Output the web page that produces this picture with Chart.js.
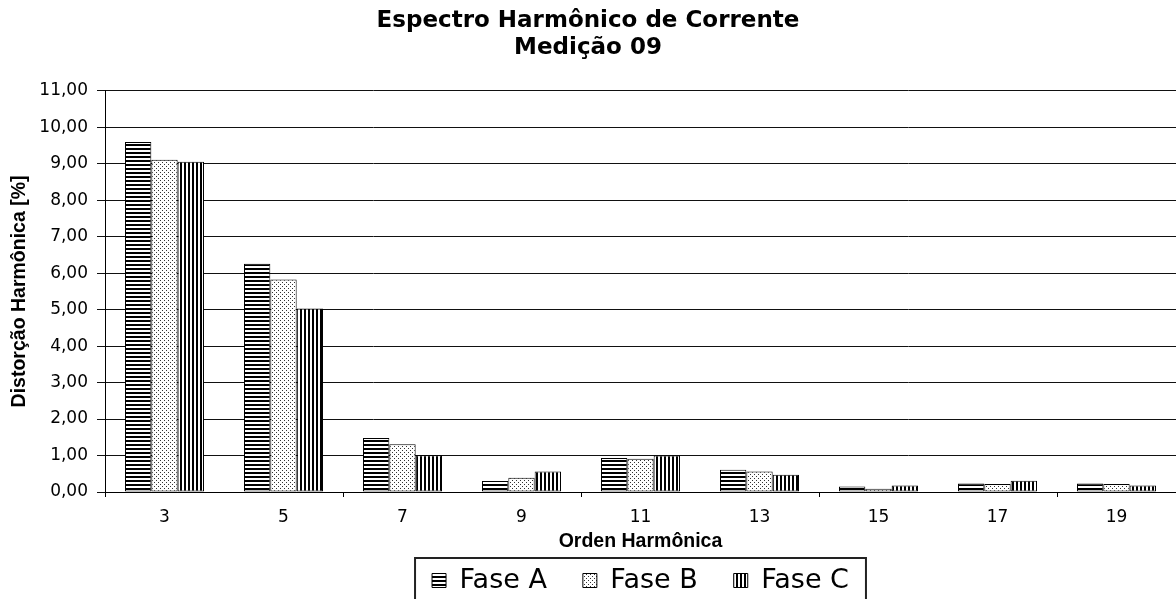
<!DOCTYPE html>
<html>
<head>
<meta charset="utf-8">
<script src="https://cdn.jsdelivr.net/npm/chart.js@4.4.1/dist/chart.umd.min.js"></script>
<style>
  html, body { margin: 0; padding: 0; background: #ffffff; }
  #wrap { width: 1176px; height: 599px; position: relative; }
</style>
</head>
<body>
<div id="wrap"><canvas id="c" width="1176" height="599"></canvas></div>
<script>
// ---- data ----
const categories = ['3', '5', '7', '9', '11', '13', '15', '17', '19'];
const faseA = [9.60, 6.26, 1.48, 0.30, 0.93, 0.61, 0.15, 0.23, 0.23];
const faseB = [9.11, 5.83, 1.31, 0.39, 0.91, 0.56, 0.09, 0.22, 0.22];
const faseC = [9.06, 5.03, 1.01, 0.56, 1.00, 0.47, 0.18, 0.31, 0.18];
const seriesNames = ['Fase A', 'Fase B', 'Fase C'];
const yTickLabels = ['0,00', '1,00', '2,00', '3,00', '4,00', '5,00', '6,00', '7,00', '8,00', '9,00', '10,00', '11,00'];
const chartTitle = ['Espectro Harmônico de Corrente', 'Medição 09'];
const xTitle = 'Orden Harmônica';
const yTitle = 'Distorção Harmônica [%]';

// ---- fill patterns ----
function makePattern(kind) {
  const c = document.createElement('canvas');
  c.width = 4; c.height = 4;
  const g = c.getContext('2d');
  g.fillStyle = '#ffffff';
  g.fillRect(0, 0, 4, 4);
  g.fillStyle = '#000000';
  if (kind === 'h') {
    g.fillRect(0, 0, 4, 2);
  } else if (kind === 'v') {
    g.fillRect(0, 0, 2, 4);
  } else {
    g.fillStyle = '#333333';
    g.fillRect(0, 0, 1, 1);
    g.fillRect(2, 2, 1, 1);
  }
  return g.createPattern(c, 'repeat');
}
const patterns = [makePattern('h'), makePattern('d'), makePattern('v')];

const legendBorder = {
  id: 'legendBorder',
  afterDraw(chart) {
    const lg = chart.legend;
    if (!lg || !lg.legendHitBoxes || !lg.legendHitBoxes.length) return;
    const hb = lg.legendHitBoxes;
    const first = hb[0], last = hb[hb.length - 1];
    const ctx = chart.ctx;
    ctx.save();
    ctx.strokeStyle = '#222222';
    ctx.lineWidth = 2;
    const left = first.left - 17;
    const right = last.left + last.width + 17;
    const top = first.top - 9;
    ctx.strokeRect(left, top, right - left, 80);
    ctx.restore();
  }
};

const ctx = document.getElementById('c').getContext('2d');
new Chart(ctx, {
  type: 'bar',
  data: {
    labels: categories,
    datasets: [faseA, faseB, faseC].map((d, i) => ({
      label: seriesNames[i],
      data: d,
      backgroundColor: patterns[i],
      borderColor: '#000000',
      borderWidth: 1,
      borderSkipped: false,
      barPercentage: 1.0,
      categoryPercentage: 0.664
    }))
  },
  options: {
    responsive: false,
    devicePixelRatio: 1,
    animation: false,
    layout: { padding: 0 },
    plugins: {
      title: {
        display: true,
        text: chartTitle,
        color: '#000000',
        font: { family: 'DejaVu Sans', size: 23, weight: 'bold', lineHeight: 1.15 },
        padding: { top: 8, bottom: 30 }
      },
      legend: {
        display: true,
        position: 'bottom',
        fullSize: false,
        maxHeight: 68,
        labels: {
          color: '#000000',
          font: { family: 'DejaVu Sans', size: 27 },
          boxWidth: 14,
          boxHeight: 14,
          padding: 36
        }
      },
      tooltip: { enabled: false }
    },
    scales: {
      x: {
        offset: true,
        afterFit: (s) => { s.height = 39; },
        grid: {
          display: true,
          drawOnChartArea: false,
          drawTicks: true,
          tickLength: 5,
          offset: true,
          color: (c) => (c.index % 2 === 0 ? '#000000' : 'rgba(0,0,0,0)')
        },
        border: { display: true, color: '#000000', width: 1 },
        ticks: {
          color: '#000000',
          font: { family: 'DejaVu Sans', size: 17 },
          padding: 10,
          maxRotation: 0,
          autoSkip: false
        },
        title: {
          display: true,
          text: xTitle,
          color: '#000000',
          font: { family: 'Liberation Sans', size: 19.5, weight: 'bold' },
          padding: { top: 0, bottom: -22 }
        }
      },
      y: {
        min: 0,
        max: 11,
        afterFit: (s) => { s.width = 105; },
        grid: {
          display: true,
          color: '#111111',
          lineWidth: 1,
          drawTicks: true,
          tickLength: 8
        },
        border: { display: true, color: '#000000', width: 1 },
        ticks: {
          stepSize: 1,
          color: '#000000',
          font: { family: 'DejaVu Sans', size: 17 },
          padding: 9,
          callback: (v, i) => yTickLabels[i]
        },
        title: {
          display: true,
          text: yTitle,
          color: '#000000',
          font: { family: 'Liberation Sans', size: 19.5, weight: 'bold' },
          padding: { top: 8, bottom: 0 }
        }
      }
    }
  },
  plugins: [legendBorder]
});
</script>
</body>
</html>
